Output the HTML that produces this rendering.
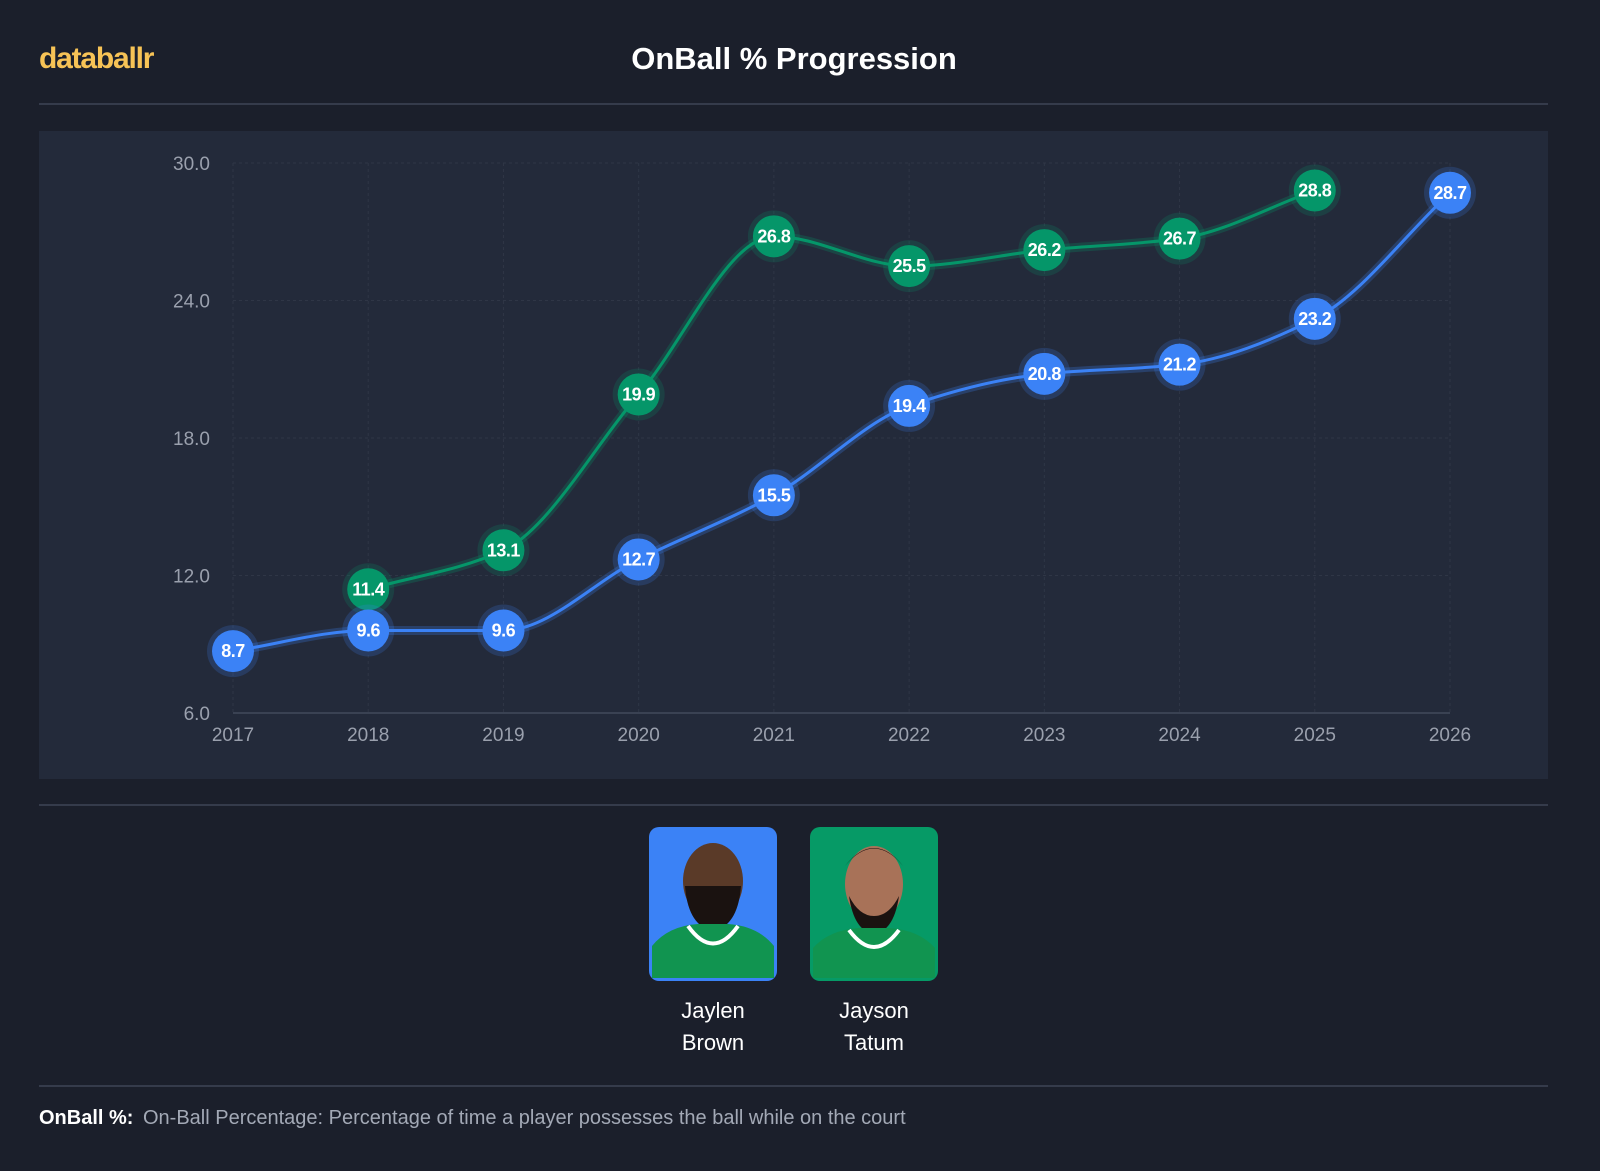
<!DOCTYPE html>
<html><head><meta charset="utf-8">
<style>
html,body{margin:0;padding:0;background:#1b1f2b;}
body{width:1600px;height:1171px;position:relative;overflow:hidden;font-family:"Liberation Sans",sans-serif;}
.abs{position:absolute;}
.hr{position:absolute;left:39px;width:1509px;height:2px;background:#353b4b;}
.name{position:absolute;width:130px;text-align:center;color:#fff;font-size:22px;line-height:32px;}
</style></head><body>
<div class="abs" style="left:39px;top:42px;color:#f7c356;font-size:30px;font-weight:bold;letter-spacing:-1.2px;">databallr</div>
<div class="abs" style="left:0;width:1588px;top:41px;text-align:center;color:#fff;font-size:31px;font-weight:bold;">OnBall % Progression</div>
<div class="hr" style="top:103px;"></div>
<div class="abs" style="left:39px;top:131px;width:1509px;height:648px;background:#232a3a;"></div>
<svg class="abs" style="left:0;top:0" width="1600" height="800" id="chart"></svg>
<div class="hr" style="top:804px;"></div>
<svg class="abs" style="left:648px;top:826px" width="130" height="156">
<rect x="1" y="1" width="128" height="154" rx="10" fill="#3b82f6"/>
<ellipse cx="65" cy="55" rx="30" ry="38" fill="#5a3a28"/>
<path d="M37 60 Q40 100 65 105 Q90 100 93 60 Z" fill="#1a1210"/>
<path d="M4 152 L4 120 Q20 100 50 98 L80 98 Q110 100 126 120 L126 152 Z" fill="#119450"/>
<path d="M40 100 Q65 135 90 100" stroke="#fff" stroke-width="4" fill="none"/>
</svg>
<svg class="abs" style="left:809px;top:826px" width="130" height="156">
<rect x="1" y="1" width="128" height="154" rx="10" fill="#069a66"/>
<ellipse cx="65" cy="58" rx="29" ry="38" fill="#a87258"/>
<path d="M36 40 Q65 5 94 40 Q80 22 65 22 Q50 22 36 40 Z" fill="#1a1210"/>
<path d="M40 70 Q45 105 65 108 Q85 105 90 70 Q80 90 65 90 Q50 90 40 70 Z" fill="#1a1210"/>
<path d="M4 152 L4 122 Q20 104 50 102 L80 102 Q110 104 126 122 L126 152 Z" fill="#119450"/>
<path d="M40 104 Q65 138 90 104" stroke="#fff" stroke-width="4" fill="none"/>
</svg>
<div class="name" style="left:648px;top:995px;">Jaylen<br>Brown</div>
<div class="name" style="left:809px;top:995px;">Jayson<br>Tatum</div>
<div class="hr" style="top:1085px;"></div>
<div class="abs" style="left:39px;top:1107px;font-size:20px;color:#fff;font-weight:bold;">OnBall %:</div>
<div class="abs" style="left:143px;top:1107px;font-size:20px;color:#a3a9b6;">On-Ball Percentage: Percentage of time a player possesses the ball while on the court</div>
<script>
var svg=document.getElementById('chart');
function X(i){return 233+i*1217/9;}function Y(v){return 713-(v-6)*137.5/6;}
var s='';
for(var t=0;t<=4;t++){var y=Y(6+6*t);if(t>0)s+='<line x1="233" x2="1450" y1="'+y+'" y2="'+y+'" stroke="#2f3646" stroke-dasharray="3 3"/>';
s+='<text x="210" y="'+(y+7)+'" fill="#9aa0ad" font-size="19" text-anchor="end" font-family="Liberation Sans">'+(6+6*t).toFixed(1)+'</text>';}
for(var i=0;i<10;i++){var x=X(i);s+='<line x1="'+x+'" x2="'+x+'" y1="163" y2="713" stroke="#2f3646" stroke-dasharray="3 3"/>';
s+='<text x="'+x+'" y="741" fill="#9aa0ad" font-size="19" text-anchor="middle" font-family="Liberation Sans">'+(2017+i)+'</text>';}
s+='<line x1="233" x2="1450" y1="713" y2="713" stroke="#3a4253" stroke-width="2"/>';
function mono(p){var n=p.length,d=[],m=[];for(var i=0;i<n-1;i++)d.push((p[i+1][1]-p[i][1])/(p[i+1][0]-p[i][0]));
m[0]=d[0];m[n-1]=d[n-2];for(i=1;i<n-1;i++){if(d[i-1]*d[i]<=0)m[i]=0;else{var h0=p[i][0]-p[i-1][0],h1=p[i+1][0]-p[i][0];m[i]=3*(h0+h1)/((2*h1+h0)/d[i-1]+(h1+2*h0)/d[i]);}}
var str='M'+p[0][0]+','+p[0][1];for(i=0;i<n-1;i++){var h=(p[i+1][0]-p[i][0])/3;str+='C'+(p[i][0]+h)+','+(p[i][1]+m[i]*h)+' '+(p[i+1][0]-h)+','+(p[i+1][1]-m[i+1]*h)+' '+p[i+1][0]+','+p[i+1][1];}return str;}
function series(start,vals,col){var p=vals.map(function(v,k){return[X(start+k),Y(v)];});var o='';
o+='<path d="'+mono(p)+'" stroke="'+col+'" stroke-opacity="0.25" stroke-width="9" fill="none"/>';
o+='<path d="'+mono(p)+'" stroke="'+col+'" stroke-width="3" fill="none"/>';
p.forEach(function(q,k){o+='<circle cx="'+q[0]+'" cy="'+q[1]+'" r="26" fill="'+col+'" fill-opacity="0.2"/><circle cx="'+q[0]+'" cy="'+q[1]+'" r="21" fill="'+col+'"/>'+
'<text x="'+q[0]+'" y="'+(q[1]+6)+'" fill="#fff" font-size="18" font-weight="bold" text-anchor="middle" letter-spacing="-0.5" font-family="Liberation Sans">'+vals[k].toFixed(1)+'</text>';});return o;}
s+=series(1,[11.4,13.1,19.9,26.8,25.5,26.2,26.7,28.8],'#059669');
s+=series(0,[8.7,9.6,9.6,12.7,15.5,19.4,20.8,21.2,23.2,28.7],'#3b82f6');
svg.innerHTML=s;
</script>
</body></html>
